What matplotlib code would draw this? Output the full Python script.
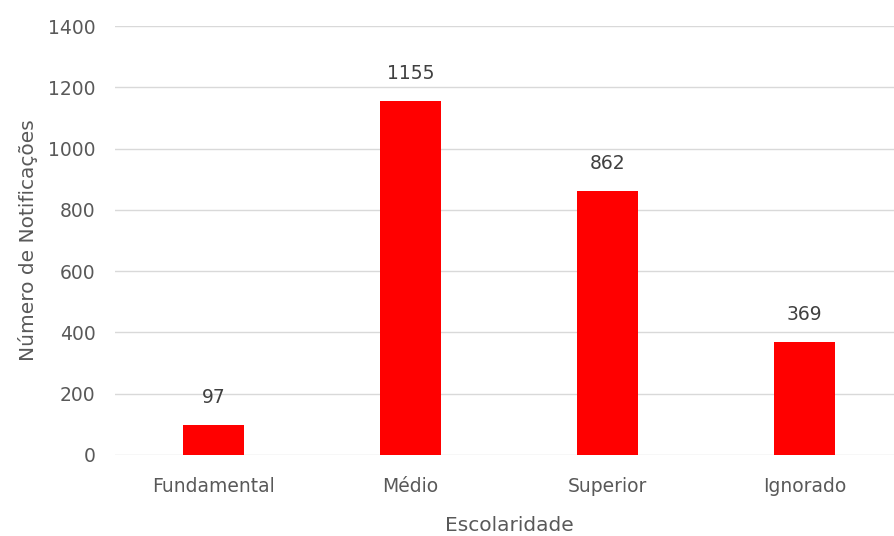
import matplotlib
matplotlib.use("Agg")
import matplotlib.pyplot as plt

categories = ["Fundamental", "Médio", "Superior", "Ignorado"]
values = [97, 1155, 862, 369]
yticks = [0, 200, 400, 600, 800, 1000, 1200, 1400]

plt.rcParams['font.family'] = ['DejaVu Sans']
text_color = "#595959"
fs = 13.5
fs_title = 14.5

fig = plt.figure(figsize=(8.95, 5.36), dpi=100)
ax = fig.add_axes([115/895, 1-455/536, 788/895, (455-26)/536])

x = list(range(len(categories)))
ax.bar(x, values, width=0.31, color="#ff0000", zorder=3)
for xi, v in zip(x, values):
    ax.annotate(str(v), (xi, v), xytext=(0, 13), textcoords="offset points",
                ha="center", va="bottom", fontsize=fs, color="#404040")

ax.set_xlim(-0.5, len(categories) - 0.5)
ax.set_ylim(0, 1400)
ax.set_yticks(yticks)
ax.set_yticklabels([str(t) for t in yticks])
ax.set_xticks(x)
ax.set_xticklabels(categories)
ax.tick_params(axis="both", length=0, labelsize=fs, labelcolor=text_color)
ax.tick_params(axis="y", pad=14)
ax.tick_params(axis="x", pad=16)
ax.grid(axis="y", color="#d9d9d9", linewidth=1, zorder=0)
for s in ax.spines.values():
    s.set_visible(False)

ax.set_ylabel("Número de Notificações", fontsize=fs_title, color=text_color, labelpad=7)
ax.set_xlabel("Escolaridade", fontsize=fs_title, color=text_color, labelpad=14)

fig.savefig("out.png", dpi=100)
